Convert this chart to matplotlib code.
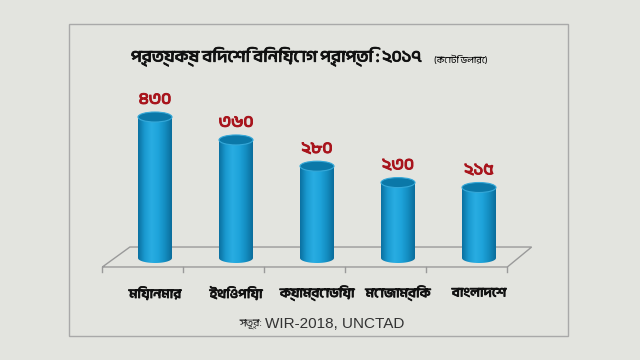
import numpy as np
import matplotlib
matplotlib.use("Agg")
import matplotlib.pyplot as plt
import matplotlib.patheffects as pe
from matplotlib import font_manager as fm
from matplotlib.ft2font import FT2Font
from matplotlib.patches import Ellipse, PathPatch, Rectangle
from matplotlib.path import Path
from matplotlib.colors import LinearSegmentedColormap

# ---------------- data ----------------
categories = ["মিয়ানমার", "ইথিওপিয়া", "ক্যাম্বোডিয়া", "মোজাম্বিক", "বাংলাদেশ"]
values = [430, 360, 280, 230, 215]
title_main = "প্রত্যক্ষ বিদেশি বিনিয়োগ প্রাপ্তি : ২০১৭"
title_unit = "(কোটি ডলারে)"
source_label = "সূত্র:"
source_text = "WIR-2018, UNCTAD"

# ---------------- fonts ----------------
found = []
for f in fm.fontManager.ttflist:
    try:
        cm = FT2Font(f.fname).get_charmap()
        if 0x09AC in cm and 0x09E8 in cm:
            found.append((f.name, f.style, f.weight))
    except Exception:
        pass
normal = sorted(set(n for n, s, w in found if s == "normal"))
pref = [n for n in normal if "Bengali" in n or "Bangla" in n] + normal
bn_family = pref[0] if pref else None
families = ([bn_family] if bn_family else []) + ["DejaVu Sans"]
plt.rcParams["font.family"] = families
plt.rcParams["font.style"] = "normal"

bn_digits = str.maketrans("0123456789", "০১২৩৪৫৬৭৮৯")

BG = "#e3e4df"
fig = plt.figure(figsize=(6.4, 3.6), dpi=100, facecolor=BG)
W, H = 640, 360

# inner frame
frame = Rectangle((69 / W, 1 - 336 / H), (568 - 69) / W, (336 - 24) / H,
                  transform=fig.transFigure, facecolor="none", edgecolor="#a9a9a9",
                  lw=1.0, zorder=-1)
fig.patches.append(frame)

# axes placed in pixel space
ax_left, ax_right, ax_top, ax_bot = 95, 540, 90, 275
ax = fig.add_axes([ax_left / W, 1 - ax_bot / H, (ax_right - ax_left) / W, (ax_bot - ax_top) / H])
ax.set_facecolor("none")
for s in ax.spines.values():
    s.set_visible(False)
ax.set_xticks([]); ax.set_yticks([])

x0_px, dx_px = 155, 81
zero_px, ppu = 258, 141 / 430
xlim = ((ax_left - x0_px) / dx_px, (ax_right - x0_px) / dx_px)
ylim = (-(ax_bot - zero_px) / ppu, (zero_px - ax_top) / ppu)

n = len(categories)
xs = np.arange(n)

# floor (3D base)
back_y, front_y = 33.5, -27.4
back_x0, back_x1 = -0.31, n - 0.35
front_x0, front_x1 = -0.65, n - 0.65
floor = Path([(front_x0, front_y), (back_x0, back_y), (back_x1, back_y),
              (front_x1, front_y), (front_x0, front_y)])
ax.add_patch(PathPatch(floor, facecolor="none", edgecolor="#9a9a9a", lw=1.0, zorder=1))
tick_len = 5 / ppu
for i in range(n + 1):
    tx = front_x0 + i
    ax.plot([tx, tx], [front_y, front_y - tick_len], color="#9a9a9a", lw=1.0, zorder=1)

# cylinders
bw = 34 / dx_px
eh = 10 / ppu
cmap = LinearSegmentedColormap.from_list(
    "cyl", ["#0a6f9f", "#1a9ad0", "#29ade2", "#1ea3da", "#138cc0", "#0b6c9a"])
grad = np.linspace(0, 1, 256).reshape(1, -1)
bars = ax.bar(xs, values, width=bw, color="none", edgecolor="none", zorder=2)
theta = np.linspace(np.pi, 2 * np.pi, 60)
for b, v in zip(bars, values):
    cx = b.get_x() + b.get_width() / 2
    left, right = cx - bw / 2, cx + bw / 2
    verts = [(left, v), (left, 0)]
    verts += [(cx + bw / 2 * np.cos(t), eh / 2 * np.sin(t)) for t in theta]
    verts += [(right, v), (left, v)]
    body = PathPatch(Path(verts), facecolor="none", edgecolor="none", zorder=2)
    ax.add_patch(body)
    im = ax.imshow(grad, cmap=cmap, aspect="auto",
                   extent=[left, right, -eh / 2, v], zorder=2, interpolation="bicubic")
    im.set_clip_path(body)
    ax.add_patch(Ellipse((cx, v), bw, eh, facecolor="#0b78a8", edgecolor="#35a8d8",
                         lw=0.8, zorder=3))
    ax.text(cx, v + 17 / ppu, f"{v}".translate(bn_digits), ha="center", va="center",
            color="#a8141c", fontsize=12, fontweight="bold", zorder=4,
            path_effects=[pe.withStroke(linewidth=0.7, foreground="#a8141c")])

ax.set_xlim(*xlim)
ax.set_ylim(*ylim)

bold = [pe.withStroke(linewidth=0.6, foreground="#111111")]

# category labels
for x, c in zip(xs, categories):
    ax.text(x, -(293 - zero_px) / ppu, c, ha="center", va="center",
            fontsize=9.5, color="#111111", clip_on=False, path_effects=bold)

# title
fig.text(276 / W, 1 - 57 / H, title_main, ha="center", va="center",
         fontsize=12, color="#111111", path_effects=bold)
fig.text(434 / W, 1 - 60 / H, title_unit, ha="left", va="center",
         fontsize=6.5, color="#111111")

# source
fig.text(262 / W, 1 - 325 / H, source_label, ha="right", va="center",
         fontsize=7.5, color="#333333")
fig.text(265 / W, 1 - 324 / H, source_text, ha="left", va="center",
         fontsize=11, color="#333333", family=["Liberation Sans", "DejaVu Sans"])

fig.savefig("out.png", dpi=100, facecolor=BG)
